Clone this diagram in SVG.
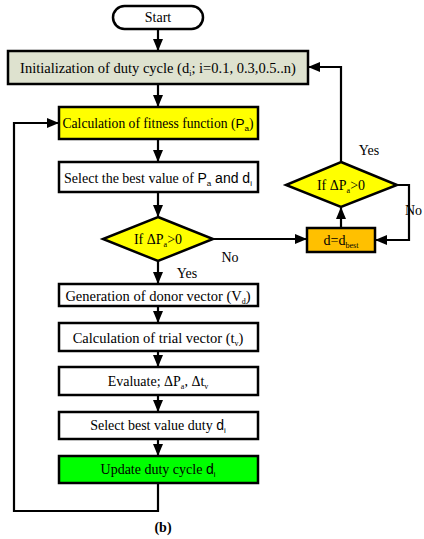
<svg xmlns="http://www.w3.org/2000/svg" width="424" height="539" viewBox="0 0 424 539">
<style>
.box{stroke:#000;stroke-width:2.5}
.t{font-family:"Liberation Serif","Times New Roman",serif;font-size:14px;fill:#000;text-anchor:middle}
.s{font-family:"Liberation Sans",Arial,sans-serif}
.sub{font-size:8px}
.c{fill:none;stroke:#000;stroke-width:2.2}
</style>
<defs>
<marker id="ah" markerUnits="userSpaceOnUse" markerWidth="12" markerHeight="12" viewBox="0 0 12 12" refX="11" refY="6" orient="auto">
<path d="M0,1 L12,6 L0,11 Z" fill="#000"/>
</marker>
</defs>
<rect width="424" height="539" fill="#fff"/>
<g id="connectors">
<path class="c" d="M158,29 V50" marker-end="url(#ah)"/>
<path class="c" d="M158,84 V106" marker-end="url(#ah)"/>
<path class="c" d="M158,139 V161" marker-end="url(#ah)"/>
<path class="c" d="M158,192 V216" marker-end="url(#ah)"/>
<path class="c" d="M213,239 H306" marker-end="url(#ah)"/>
<path class="c" d="M341,228 V208" marker-end="url(#ah)"/>
<path class="c" d="M397,185 H409 V240 H376" marker-end="url(#ah)"/>
<path class="c" d="M341,162 V67 H309" marker-end="url(#ah)"/>
<path class="c" d="M158,261 V283" marker-end="url(#ah)"/>
<path class="c" d="M158,306 V322" marker-end="url(#ah)"/>
<path class="c" d="M158,351 V366" marker-end="url(#ah)"/>
<path class="c" d="M158,395 V411" marker-end="url(#ah)"/>
<path class="c" d="M158,439 V455" marker-end="url(#ah)"/>
<path class="c" d="M158,483 V511 H14 V123 H58" marker-end="url(#ah)"/>
</g>
<g id="start">
<rect class="box" x="113" y="6" width="90" height="23" rx="11.5" fill="#fff"/>
<text class="t" x="158" y="22">Start</text>
</g>
<g id="init">
<rect class="box" x="8" y="51" width="300" height="33" fill="#dee2cf"/>
<text class="t" x="158" y="72.5" style="font-size:14.5px">Initialization of duty cycle (d<tspan class="sub" dy="3">i</tspan><tspan dy="-3">; i=0.1, 0.3,0.5..n)</tspan></text>
</g>
<g id="calc">
<rect class="box" x="59" y="107" width="199" height="32" fill="#ffff00"/>
<text class="t" x="158" y="128" style="font-size:13.6px">Calculation of fitness function (<tspan class="s">P</tspan><tspan class="s sub" dy="3">a</tspan><tspan dy="-3">)</tspan></text>
</g>
<g id="select">
<rect class="box" x="59" y="162" width="199" height="30" fill="#fff"/>
<text class="t" x="158" y="182.5">Select the best value of <tspan class="s">P</tspan><tspan class="s sub" dy="3">a</tspan><tspan class="s" dy="-3"> and d</tspan><tspan class="s sub" dy="3">i</tspan></text>
</g>
<g id="dec1">
<polygon class="box" points="158,217 213,239 158,261 103,239" fill="#ffff00"/>
<text class="t" x="158" y="244">If ΔP<tspan class="sub" dy="3">a</tspan><tspan dy="-3">&gt;0</tspan></text>
</g>
<g id="dbest">
<rect class="box" x="307" y="228" width="68" height="24" fill="#ffc000"/>
<text class="t" x="341" y="245">d=d<tspan class="sub" dy="3">best</tspan></text>
</g>
<g id="dec2">
<polygon class="box" points="341,162 397,185 341,207 286,185" fill="#ffff00"/>
<text class="t" x="341" y="190">If ΔP<tspan class="sub" dy="3">a</tspan><tspan dy="-3">&gt;0</tspan></text>
</g>
<g id="labels">
<text class="t" x="230" y="262">No</text>
<text class="t" x="187" y="278">Yes</text>
<text class="t" x="369" y="155">Yes</text>
<text class="t" x="405" y="215" style="text-anchor:start">No</text>
<text class="t" x="163" y="532" style="font-weight:bold">(b)</text>
</g>
<g id="gen">
<rect class="box" x="59" y="284" width="199" height="22" fill="#fff"/>
<text class="t" x="158" y="300.5" style="font-size:14.5px">Generation of donor vector (V<tspan class="sub" dy="3">d</tspan><tspan dy="-3">)</tspan></text>
</g>
<g id="trial">
<rect class="box" x="59" y="323" width="199" height="28" fill="#fff"/>
<text class="t" x="158" y="342.5" style="font-size:14.5px">Calculation of trial vector (t<tspan class="sub" dy="3">v</tspan><tspan dy="-3">)</tspan></text>
</g>
<g id="eval">
<rect class="box" x="59" y="367" width="199" height="28" fill="#fff"/>
<text class="t" x="158" y="386">Evaluate; ΔP<tspan class="sub" dy="3">a</tspan><tspan dy="-3">, Δt</tspan><tspan class="sub" dy="3">v</tspan></text>
</g>
<g id="selbest">
<rect class="box" x="59" y="412" width="199" height="27" fill="#fff"/>
<text class="t" x="158" y="430">Select best value duty <tspan class="s">d</tspan><tspan class="s sub" dy="3">i</tspan></text>
</g>
<g id="update">
<rect class="box" x="59" y="456" width="199" height="27" fill="#00ff00"/>
<text class="t" x="158" y="474">Update duty cycle <tspan class="s">d</tspan><tspan class="s sub" dy="3">i</tspan></text>
</g>
</svg>
